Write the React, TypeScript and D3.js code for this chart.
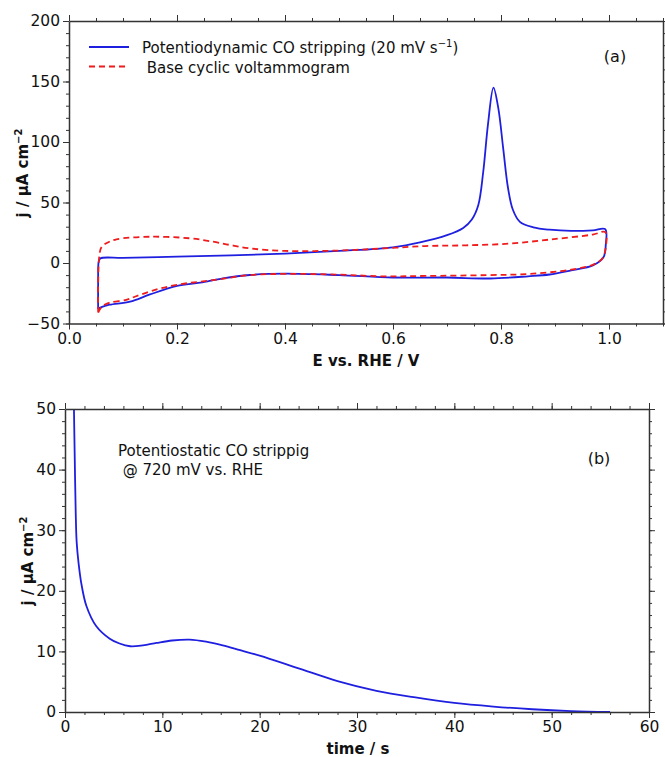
import React, { useEffect, useRef } from "react";
import * as d3 from "d3";

// panel (a): [E vs RHE (V), j (µA cm-2)], anodic sweep then cathodic sweep
const coStripping: [number, number][] = [
  [0.054, -38], [0.054, -15], [0.055, 1], [0.058, 3.8], [0.1, 4.2], [0.2, 5.2],
  [0.3, 6.3], [0.4, 7.8], [0.5, 10], [0.6, 13], [0.65, 17], [0.7, 23],
  [0.73, 29], [0.746, 36], [0.758, 48], [0.767, 75], [0.776, 115], [0.786, 145],
  [0.795, 128], [0.804, 95], [0.813, 62], [0.822, 44], [0.835, 34], [0.86, 29.5],
  [0.89, 27.5], [0.93, 26.5], [0.97, 27], [0.993, 28], [0.994, 15], [0.99, 5],
  [0.97, -2], [0.93, -6], [0.89, -9.5], [0.85, -11], [0.78, -12.8], [0.7, -12],
  [0.6, -12], [0.5, -10], [0.4, -8.8], [0.335, -9.9], [0.285, -12.7], [0.243, -16.3],
  [0.2, -19], [0.15, -26], [0.113, -32], [0.075, -34.5], [0.06, -36.5], [0.054, -38],
];

const baseCV: [number, number][] = [
  [0.054, -41], [0.054, -15], [0.056, 5], [0.06, 13], [0.07, 16.5], [0.088, 19.6],
  [0.15, 21.7], [0.224, 20.4], [0.267, 17.6], [0.298, 14.9], [0.335, 12.1], [0.4, 10],
  [0.5, 10.3], [0.58, 12], [0.66, 14], [0.735, 14.6], [0.815, 16], [0.893, 19.5],
  [0.97, 23.5], [0.993, 25.5], [0.994, 13], [0.988, 4], [0.97, -1.5], [0.93, -5.5],
  [0.854, -9], [0.775, -10], [0.66, -10.7], [0.58, -11], [0.5, -9.6], [0.4, -9],
  [0.335, -10], [0.27, -14], [0.2, -18], [0.155, -22.8], [0.123, -27.7], [0.106, -30.5],
  [0.076, -32.7], [0.061, -36], [0.054, -41],
];

// panel (b): potentiostatic transient at 720 mV
const transientTime = [
  0.92, 1.0, 1.1, 1.2, 1.4, 1.7, 2.2, 3.2, 4.6, 5.6, 6.7, 8, 9.4, 11, 12.8,
  14.5, 16.2, 18, 20, 24, 28, 32, 36, 40, 44, 48, 52, 56,
];
const transientJ = [
  50, 42, 33, 28, 24.5, 21, 17.5, 14.2, 12.1, 11.3, 10.85, 11, 11.4, 11.8, 11.95,
  11.6, 11, 10.2, 9.3, 7.2, 5.1, 3.5, 2.4, 1.5, 0.9, 0.45, 0.15, 0,
];

const eMajor = [0, 0.2, 0.4, 0.6, 0.8, 1.0];
const eMinor = d3.range(0, 1.1001, 0.05);
const jaMajor = [-50, 0, 50, 100, 150, 200];
const jaMinor = d3.range(-50, 200.1, 10);
const tMajor = [0, 10, 20, 30, 40, 50, 60];
const tMinor = d3.range(0, 60.1, 2);
const jbMajor = [0, 10, 20, 30, 40, 50];
const jbMinor = d3.range(0, 50.1, 2);

const FONT = "'DejaVu Sans', sans-serif";
const FS = 15;

function frame(g, x, y, xMajor, xMinor, yMajor, yMinor, fmtX) {
  const [x0, x1] = x.range();
  const [y0, y1] = y.range();
  const sides = [
    { ax: d3.axisBottom(x), tr: `translate(0,${y0})`, maj: xMajor, min: xMinor, lab: true, fmt: fmtX },
    { ax: d3.axisTop(x), tr: `translate(0,${y1})`, maj: xMajor, min: xMinor, lab: false },
    { ax: d3.axisLeft(y), tr: `translate(${x0},0)`, maj: yMajor, min: yMinor, lab: true, fmt: d3.format("") },
    { ax: d3.axisRight(y), tr: `translate(${x1},0)`, maj: yMajor, min: yMinor, lab: false },
  ];
  sides.forEach((s) => {
    g.append("g")
      .attr("transform", s.tr)
      .attr("color", "#333")
      .call(s.ax.tickValues(s.min).tickSize(3).tickSizeOuter(0).tickFormat(() => ""))
      .call((a) => a.select(".domain").attr("stroke-width", 1.5));
    const m = g
      .append("g")
      .attr("transform", s.tr)
      .attr("color", "#333")
      .call(
        s.ax
          .tickValues(s.maj)
          .tickSize(6)
          .tickSizeOuter(0)
          .tickPadding(3)
          .tickFormat(s.lab ? s.fmt : () => "")
      );
    m.select(".domain").remove();
    m.selectAll("text").attr("font-size", 15.5).attr("font-family", FONT).attr("fill", "#111");
  });
}

function App() {
  const svgRef = useRef(null);

  useEffect(() => {
    const svg = d3.select(svgRef.current);
    svg.selectAll("*").remove();

    // ---------- panel (a) ----------
    const xa = d3.scaleLinear().domain([0, 1.1]).range([69, 663]);
    const ya = d3.scaleLinear().domain([-50, 200]).range([323.5, 21]);
    const ga = svg.append("g");

    const lineA = d3
      .line()
      .x((d) => xa(d[0]))
      .y((d) => ya(d[1]))
      .curve(d3.curveCatmullRom.alpha(0.5));

    ga.append("path")
      .attr("d", lineA(coStripping))
      .attr("fill", "none")
      .attr("stroke", "#1f1fe0")
      .attr("stroke-width", 1.8);
    ga.append("path")
      .attr("d", lineA(baseCV))
      .attr("fill", "none")
      .attr("stroke", "#ee1c1c")
      .attr("stroke-width", 1.8)
      .attr("stroke-dasharray", "6,4");

    frame(ga, xa, ya, eMajor, eMinor, jaMajor, jaMinor, d3.format(".1f"));

    // legend
    ga.append("line").attr("x1", 89).attr("x2", 129).attr("y1", 47).attr("y2", 47)
      .attr("stroke", "#1f1fe0").attr("stroke-width", 1.8);
    ga.append("line").attr("x1", 89).attr("x2", 129).attr("y1", 66.5).attr("y2", 66.5)
      .attr("stroke", "#ee1c1c").attr("stroke-width", 1.8).attr("stroke-dasharray", "6,4");
    const t1 = ga.append("text").attr("x", 142).attr("y", 53).attr("font-size", FS)
      .attr("font-family", FONT).attr("fill", "#111");
    t1.append("tspan").text("Potentiodynamic CO stripping (20 mV s");
    t1.append("tspan").attr("dy", -6).attr("font-size", 10).text("−1");
    t1.append("tspan").attr("dy", 6).text(")");
    ga.append("text").attr("x", 142).attr("y", 73).attr("font-size", FS)
      .attr("font-family", FONT).attr("fill", "#111").attr("xml:space", "preserve")
      .text(" Base cyclic voltammogram");
    ga.append("text").attr("x", 615).attr("y", 62).attr("text-anchor", "middle")
      .attr("font-size", 16).attr("font-family", FONT).attr("fill", "#111").text("(a)");

    ga.append("text").attr("x", 366).attr("y", 366).attr("text-anchor", "middle")
      .attr("font-size", FS).attr("font-weight", "bold").attr("font-family", FONT)
      .attr("fill", "#111").text("E vs. RHE / V");
    const ylA = ga.append("text").attr("transform", "translate(28,173) rotate(-90)")
      .attr("text-anchor", "middle").attr("font-size", FS).attr("font-weight", "bold")
      .attr("font-family", FONT).attr("fill", "#111");
    ylA.append("tspan").text("j / µA cm");
    ylA.append("tspan").attr("dy", -6).attr("font-size", 10).text("−2");

    // ---------- panel (b) ----------
    const xb = d3.scaleLinear().domain([0, 60]).range([65, 649]);
    const yb = d3.scaleLinear().domain([0, 50]).range([712, 409]);
    const gb = svg.append("g");

    svg.append("clipPath").attr("id", "clipb").append("rect")
      .attr("x", 65).attr("y", 409).attr("width", 584).attr("height", 303);

    const lineB = d3
      .line()
      .x((d) => xb(d[0]))
      .y((d) => yb(d[1]))
      .curve(d3.curveCatmullRom.alpha(0.5));
    gb.append("path")
      .attr("d", lineB(transientTime.map((t, i) => [t, transientJ[i]])))
      .attr("clip-path", "url(#clipb)")
      .attr("fill", "none")
      .attr("stroke", "#1f1fe0")
      .attr("stroke-width", 1.8);

    frame(gb, xb, yb, tMajor, tMinor, jbMajor, jbMinor, d3.format(""));

    gb.append("text").attr("x", 118).attr("y", 456).attr("font-size", FS)
      .attr("font-family", FONT).attr("fill", "#111").text("Potentiostatic CO strippig");
    gb.append("text").attr("x", 118).attr("y", 475).attr("font-size", FS)
      .attr("font-family", FONT).attr("fill", "#111").attr("xml:space", "preserve")
      .text(" @ 720 mV vs. RHE");
    gb.append("text").attr("x", 599).attr("y", 464).attr("text-anchor", "middle")
      .attr("font-size", 16).attr("font-family", FONT).attr("fill", "#111").text("(b)");

    gb.append("text").attr("x", 358).attr("y", 754).attr("text-anchor", "middle")
      .attr("font-size", FS).attr("font-weight", "bold").attr("font-family", FONT)
      .attr("fill", "#111").text("time / s");
    const ylB = gb.append("text").attr("transform", "translate(33,561) rotate(-90)")
      .attr("text-anchor", "middle").attr("font-size", FS).attr("font-weight", "bold")
      .attr("font-family", FONT).attr("fill", "#111");
    ylB.append("tspan").text("j / µA cm");
    ylB.append("tspan").attr("dy", -6).attr("font-size", 10).text("−2");
  }, []);

  return (
    <svg
      ref={svgRef}
      width={665}
      height={757}
      style={{ position: "absolute", left: 0, top: 0, background: "#fff" }}
    ></svg>
  );
}

export default App;
